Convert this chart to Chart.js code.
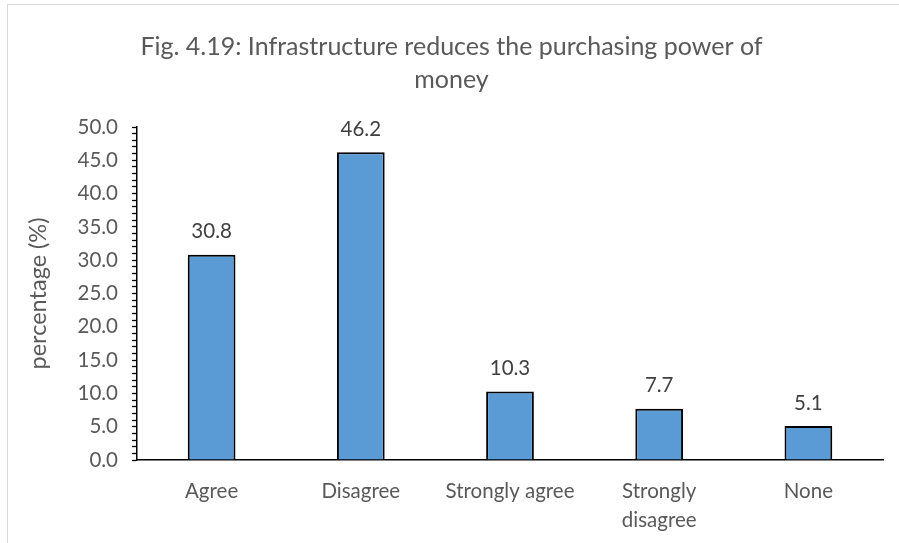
<!DOCTYPE html>
<html>
<head>
<meta charset="utf-8">
<script src="https://cdn.jsdelivr.net/npm/chart.js@4.4.1/dist/chart.umd.min.js"></script>
<style>
  html, body { margin: 0; padding: 0; background: #fff; }
  #wrap { position: relative; width: 899px; height: 543px; overflow: hidden; }
  #frame { position: absolute; left: 7px; top: 4px; width: 1000px; height: 1000px;
           border-left: 1px solid #d9d9d9; border-top: 1px solid #d9d9d9; }
  #chart { position: absolute; left: 0; top: 0; }
</style>
</head>
<body>
<div id="wrap">
  <div id="frame"></div>
  <canvas id="chart" width="899" height="543"></canvas>
</div>
<script>
var categories = ["Agree", "Disagree", "Strongly agree", ["Strongly", "disagree"], "None"];
var percentages = [30.8, 46.2, 10.3, 7.7, 5.1];
var yTickValues = [0, 5, 10, 15, 20, 25, 30, 35, 40, 45, 50];

var fontFamily = "Lato, 'Open Sans', sans-serif";

// writes each bar's value just above it
var barValues = {
    id: 'barValues',
    afterDatasetsDraw: function(chart) {
        var ctx = chart.ctx;
        var meta = chart.getDatasetMeta(0);
        ctx.save();
        ctx.font = "20.5px " + fontFamily;
        ctx.fillStyle = "#404040";
        ctx.textAlign = "center";
        ctx.textBaseline = "middle";
        meta.data.forEach(function(bar, i) {
            ctx.fillText(percentages[i].toFixed(1), bar.x, bar.y - 23);
        });
        ctx.restore();
    }
};

new Chart(document.getElementById("chart"), {
    type: 'bar',
    data: {
        labels: categories,
        datasets: [{
            data: percentages,
            backgroundColor: "#5b9bd5",
            borderColor: "#000000",
            borderWidth: 2,
            borderSkipped: 'bottom',
            barPercentage: 0.32,
            categoryPercentage: 1.0
        }]
    },
    options: {
        responsive: false,
        animation: { duration: 0 },
        layout: { padding: { left: 20, right: 16, top: 0, bottom: 0 } },
        plugins: {
            legend: { display: false },
            tooltip: { enabled: false },
            title: {
                display: true,
                text: ["Fig. 4.19: Infrastructure reduces the purchasing power of", "money"],
                color: "#595959",
                font: { family: fontFamily, size: 25, weight: 'normal', lineHeight: 1.32 },
                padding: { top: 30, bottom: 31 }
            }
        },
        scales: {
            x: {
                grid: { display: false, drawTicks: false },
                border: { color: "#000000", width: 1.5 },
                ticks: {
                    color: "#595959",
                    font: { family: fontFamily, size: 20.5, lineHeight: 1.42 },
                    padding: 17,
                    maxRotation: 0,
                    autoSkip: false
                },
                afterFit: function(axis) { axis.height = 83; }
            },
            y: {
                min: 0,
                max: 50,
                afterBuildTicks: function(axis) {
                    // minor ticks every 1, labelled every 5
                    var t = [];
                    for (var v = 0; v <= 50; v++) t.push({ value: v });
                    axis.ticks = t;
                },
                grid: {
                    drawOnChartArea: false,
                    drawTicks: true,
                    tickLength: 5,
                    tickColor: "#000000",
                    tickWidth: 1.3
                },
                border: { color: "#000000", width: 1.5 },
                ticks: {
                    autoSkip: false,
                    color: "#595959",
                    font: { family: fontFamily, size: 20.5 },
                    padding: 14,
                    callback: function(value) {
                        return yTickValues.indexOf(value) >= 0 ? value.toFixed(1) : '';
                    }
                },
                title: {
                    display: true,
                    text: "percentage (%)",
                    color: "#595959",
                    font: { family: fontFamily, size: 23.5 },
                    padding: { bottom: 0 }
                },
                afterFit: function(axis) { axis.width = 117; }
            }
        }
    },
    plugins: [barValues]
});
</script>
</body>
</html>
